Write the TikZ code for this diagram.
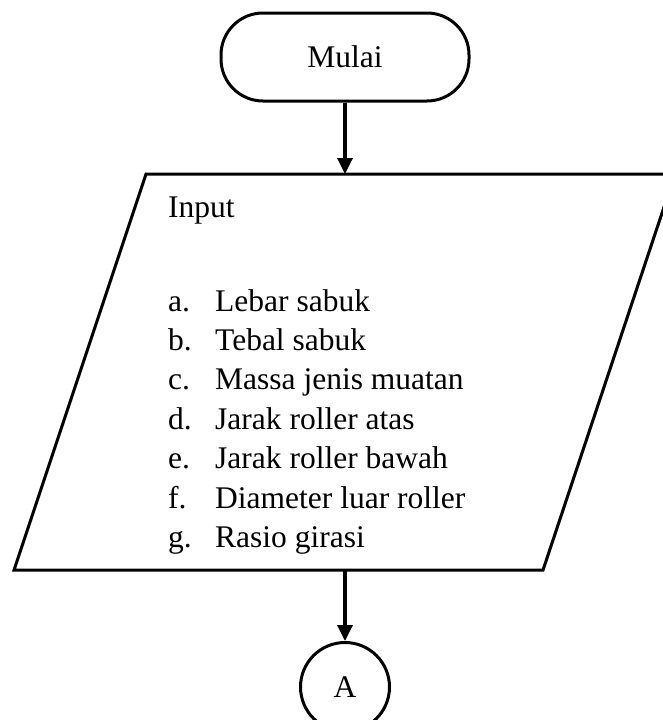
\documentclass[tikz,border=0pt]{standalone}
\usepackage{fontspec}
\setmainfont{Liberation Serif}
\usetikzlibrary{arrows.meta}
\begin{document}
\begin{tikzpicture}[x=1pt,y=-1pt,
  shapeline/.style={line width=3pt, line join=miter},
  flow/.style={line width=3.4pt,-{Triangle[width=15pt,length=16pt]}},
  bigtext/.style={font=\fontsize{31.5}{37.5}\selectfont},
  txt/.style={bigtext, inner sep=0pt, anchor=base west}]
\useasboundingbox (0,0) rectangle (662,720);
% terminator
\node[draw, shapeline, rounded corners=42pt, minimum width=248pt, minimum height=88pt, inner sep=0pt, bigtext] (mulai) at (345,57) {Mulai};
% input parallelogram
\coordinate (ptl) at (146,174);
\coordinate (ptr) at (675,174);
\coordinate (pbr) at (543,570);
\coordinate (pbl) at (14,570);
\draw[shapeline] (ptl) -- (ptr) -- (pbr) -- (pbl) -- cycle;
\coordinate (pin) at (345,174);
\coordinate (pout) at (345,570);
\node[txt] (input) at (168,217) {Input};
\foreach \l/\t [count=\i from 0] in {a./Lebar sabuk, b./Tebal sabuk, c./Massa jenis muatan, d./Jarak roller atas, e./Jarak roller bawah, f./Diameter luar roller, g./Rasio girasi}{
  \node[txt] (lab\i) at (168,{311+39.4*\i}) {\l};
  \node[txt] (item\i) at (215,{311+39.4*\i}) {\t};
}
% connector
\node[draw, circle, shapeline, minimum size=89pt, inner sep=0pt, bigtext] (A) at (345,687) {A};
\draw[flow] (mulai) -- (pin);
\draw[flow] (pout) -- (A);
\end{tikzpicture}
\end{document}
